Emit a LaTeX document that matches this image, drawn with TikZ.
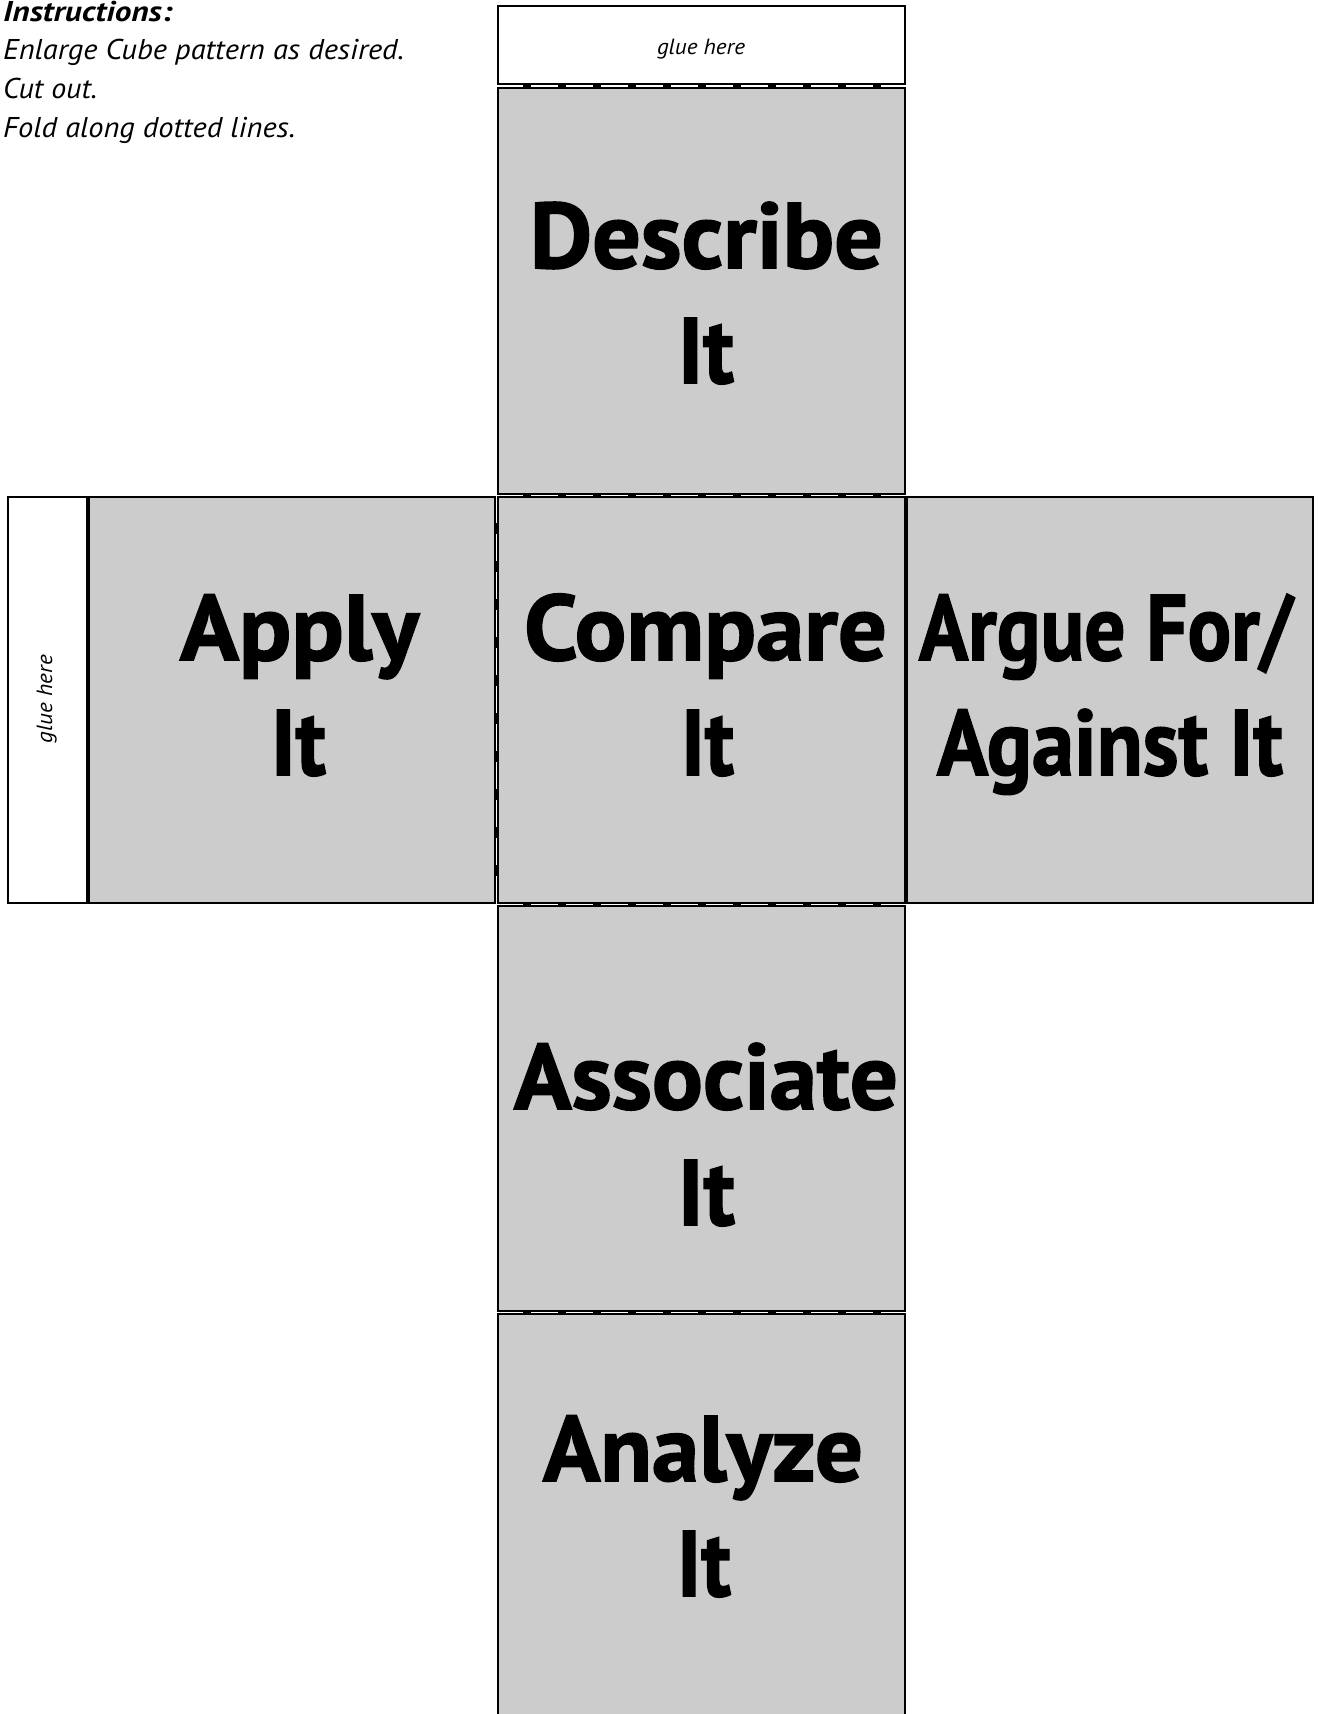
\documentclass[tikz,border=0pt]{standalone}
\usepackage{fontspec}
\usepackage{graphicx}
\newfontfamily\ptsans{PT Sans}
\newfontfamily\ptsansheavy{PT Sans Bold}[FakeBold=1.6]
\definecolor{facegray}{HTML}{CCCCCC}
\newsavebox\fitbox
\newcommand\fitw[2]{\sbox\fitbox{#2}\scalebox{\fpeval{(#1)/(\the\wd\fitbox)}}[1]{\usebox\fitbox}}
\tikzset{
  face/.style={fill=facegray, draw=black, line width=1.6pt},
  tab/.style={fill=white, draw=black, line width=1.6pt},
  foldh/.style={line width=3pt, dash pattern=on 8pt off 27pt, dash phase=10pt},
  foldv/.style={line width=3pt, dash pattern=on 11pt off 27pt, dash phase=12pt},
  bigtxt/.style={anchor=base, inner sep=0pt, font=\ptsansheavy\fontsize{93}{93}\selectfont},
  instr/.style={anchor=base west, inner sep=0pt, font=\ptsans\itshape\fontsize{28.6}{30}\selectfont},
  gluetxt/.style={anchor=base, inner sep=0pt, font=\ptsans\itshape\fontsize{22}{22}\selectfont},
}
\begin{document}
\begin{tikzpicture}[x=1pt, y=-1pt]
\useasboundingbox (0,0) rectangle (1318,1714);
\clip (0,0) rectangle (1318,1714);
\fill[white] (0,0) rectangle (1318,1714);

% tabs
\draw[tab] (498,6) rectangle (905,84);
\draw[tab] (8,497) rectangle (87,903);

% faces
\draw[face] (498,88) rectangle (905,494);
\draw[face] (89,497) rectangle (495,903);
\draw[face] (498,497) rectangle (905,903);
\draw[face] (907,497) rectangle (1313,903);
\draw[face] (498,906) rectangle (905,1311);
\fill[facegray] (498,1314) rectangle (905,1725);
\draw[black, line width=1.6pt] (498,1725) |- (905,1314) -- (905,1725);

% fold lines
\draw[foldh] (498,86) -- (905,86);
\draw[foldh] (498,495.5) -- (905,495.5);
\draw[foldh] (498,904.5) -- (905,904.5);
\draw[foldh] (498,1312.5) -- (905,1312.5);
\draw[foldv] (88,497) -- (88,903);
\draw[foldv] (496.5,497) -- (496.5,903);
\draw[foldv] (906,497) -- (906,903);

% instructions
\node[instr] (ins1) at (3,21) {\fitw{169}{\bfseries Instructions:}};
\node[instr] (ins2) at (3,59) {\fitw{401}{Enlarge Cube pattern as desired.}};
\node[instr] (ins3) at (3,98) {\fitw{94}{Cut out.}};
\node[instr] (ins4) at (3,137) {\fitw{292}{Fold along dotted lines.}};

% glue labels
\node[gluetxt] (gluetop) at (701,54) {\fitw{88}{glue here}};
\node[gluetxt, rotate=90] (glueleft) at (52,699) {\fitw{88}{glue here}};

% face texts
\node[bigtxt] (describeA) at (706.5,268) {\fitw{353}{Describe}};
\node[bigtxt] (describeB) at (706,383) {\fitw{56}{It}};
\node[bigtxt] (applyA) at (299.5,660) {\fitw{239}{Apply}};
\node[bigtxt] (applyB) at (298.5,775) {\fitw{55}{It}};
\node[bigtxt] (compareA) at (705.5,660) {\fitw{363}{Compare}};
\node[bigtxt] (compareB) at (707.5,775) {\fitw{53}{It}};
\node[bigtxt] (argueA) at (1106,660) {\fitw{374}{Argue For/}};
\node[bigtxt] (argueB) at (1110,775) {\fitw{346}{Against It}};
\node[bigtxt] (associateA) at (706,1109) {\fitw{384}{Associate}};
\node[bigtxt] (associateB) at (706.5,1225) {\fitw{57}{It}};
\node[bigtxt] (analyzeA) at (703,1481) {\fitw{320}{Analyze}};
\node[bigtxt] (analyzeB) at (704,1596) {\fitw{54}{It}};
\end{tikzpicture}
\end{document}
